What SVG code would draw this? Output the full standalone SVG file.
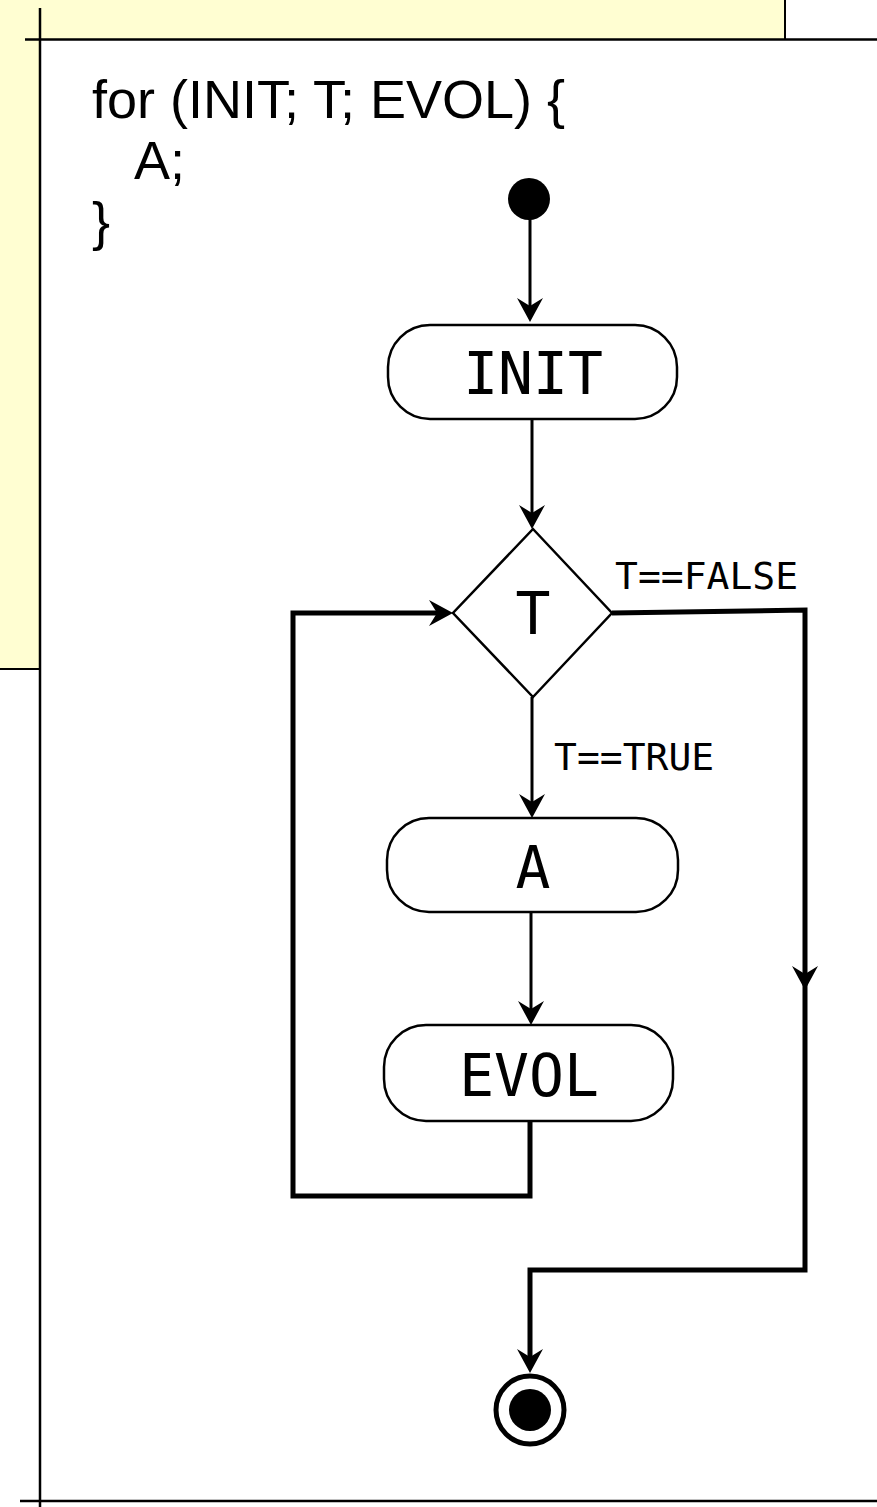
<svg xmlns="http://www.w3.org/2000/svg" width="877" height="1507" viewBox="0 0 877 1507">
  <style>
    .code { font-family: "Liberation Sans", Arial, sans-serif; font-size: 54px; fill: #000; }
    .mono { font-family: "DejaVu Sans Mono", "Liberation Mono", monospace; fill: #000; }
    .node-label { font-size: 58px; text-anchor: middle; }
    .edge-label { font-size: 38px; }
    .box { fill: #fff; stroke: #000; stroke-width: 2.5; }
    .edge { fill: none; stroke: #000; stroke-width: 3; }
    .edge-thick { fill: none; stroke: #000; stroke-width: 5; }
    .frame { stroke: #000; stroke-width: 2.5; }
  </style>
  <defs>
    <marker id="arrow" viewBox="-26 -15 28 30" refX="-14" refY="0" markerWidth="28" markerHeight="30" markerUnits="userSpaceOnUse" orient="auto">
      <path d="M0,0 L-24,-13 L-16,0 L-24,13 Z" fill="#000"/>
    </marker>
  </defs>

  <!-- note sheet behind the frame -->
  <rect x="-2" y="-2" width="787" height="671" fill="#FFFED2" stroke="#000" stroke-width="2"/>

  <!-- frame -->
  <rect x="40" y="39.5" width="840" height="1461.5" fill="#fff"/>
  <line class="frame" x1="25" y1="39.5" x2="877" y2="39.5"/>
  <line class="frame" x1="40" y1="8" x2="40" y2="1507" stroke-width="4"/>
  <line class="frame" x1="20" y1="1501" x2="877" y2="1501"/>

  <!-- code snippet -->
  <g id="code">
    <text class="code" x="92" y="118">for (INIT; T; EVOL) {</text>
    <text class="code" x="134" y="179">A;</text>
    <text class="code" x="92" y="240">}</text>
  </g>

  <!-- connectors -->
  <g id="connectors">
    <path class="edge" d="M530,215 V308" marker-end="url(#arrow)"/>
    <path class="edge" d="M532,419 V515" marker-end="url(#arrow)"/>
    <path class="edge" d="M532,697 V804" marker-end="url(#arrow)"/>
    <path class="edge" d="M531,912 V1011" marker-end="url(#arrow)"/>
    <!-- loop back from EVOL to the test -->
    <path class="edge-thick" d="M530,1121 V1196 H293 V613 H439" marker-end="url(#arrow)"/>
    <!-- exit branch -->
    <path class="edge-thick" d="M612,613 L805,610 V976" marker-end="url(#arrow)"/>
    <path class="edge-thick" d="M805,976 V1270 H530 V1359" marker-end="url(#arrow)"/>
    <text class="mono edge-label" x="615" y="589">T==FALSE</text>
    <text class="mono edge-label" x="554" y="770">T==TRUE</text>
  </g>

  <g id="start">
    <circle cx="529" cy="199" r="21" fill="#000"/>
  </g>

  <g id="init">
    <rect class="box" x="388" y="325" width="289" height="94" rx="42" ry="42"/>
    <text class="mono node-label" x="533" y="394">INIT</text>
  </g>

  <g id="test">
    <polygon class="box" points="533,529 612,613 533,697 453,613"/>
    <text class="mono node-label" x="533" y="634">T</text>
  </g>

  <g id="body">
    <rect class="box" x="387" y="818" width="291" height="94" rx="42" ry="42"/>
    <text class="mono node-label" x="533" y="888">A</text>
  </g>

  <g id="evol">
    <rect class="box" x="384" y="1025" width="289" height="96" rx="42" ry="42"/>
    <text class="mono node-label" x="529" y="1096">EVOL</text>
  </g>

  <g id="end">
    <circle cx="530" cy="1410" r="34" fill="#fff" stroke="#000" stroke-width="5"/>
    <circle cx="530" cy="1410" r="21" fill="#000"/>
  </g>
</svg>
